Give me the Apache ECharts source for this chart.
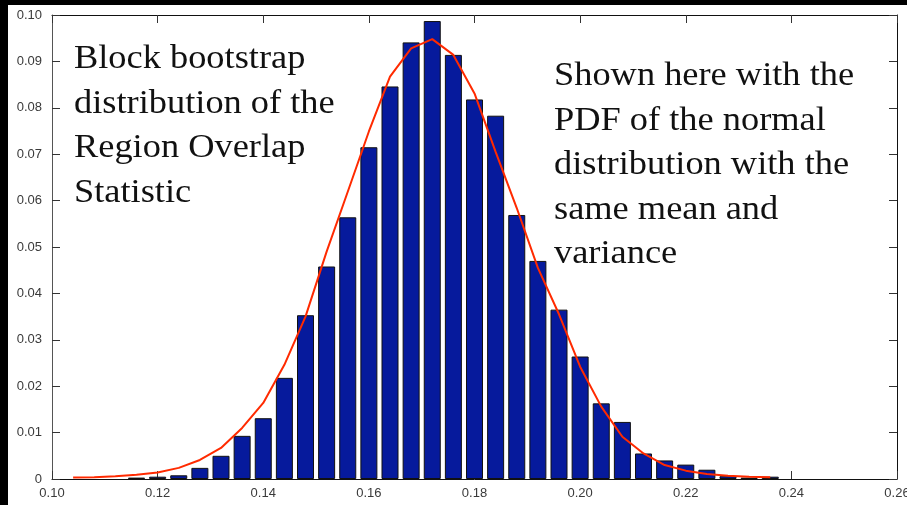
<!DOCTYPE html>
<html>
<head>
<meta charset="utf-8">
<script src="https://cdn.jsdelivr.net/npm/echarts@6/dist/echarts.min.js"></script>
<style>
  html, body { margin: 0; padding: 0; background: #ffffff; }
  #chart { width: 907px; height: 505px; }
</style>
</head>
<body>
<div id="chart"></div>
<script>
// Histogram bin centres (bin width 0.004) and the bootstrap frequencies
const binCenters = [0.116, 0.120, 0.124, 0.128, 0.132, 0.136, 0.140, 0.144, 0.148,
  0.152, 0.156, 0.160, 0.164, 0.168, 0.172, 0.176, 0.180, 0.184, 0.188, 0.192,
  0.196, 0.200, 0.204, 0.208, 0.212, 0.216, 0.220, 0.224, 0.228, 0.232, 0.236];
const binFreq = [0.0003, 0.0005, 0.0008, 0.0024, 0.0050, 0.0093, 0.0131, 0.0218, 0.0353,
  0.0458, 0.0564, 0.0715, 0.0846, 0.0941, 0.0987, 0.0914, 0.0818, 0.0783, 0.0569, 0.0470,
  0.0365, 0.0264, 0.0163, 0.0123, 0.0055, 0.0040, 0.0031, 0.0020, 0.0006, 0.0003, 0.0005];

// Normal PDF (same mean and variance), sampled at the bin centres
const pdfX = [0.104, 0.108, 0.112, 0.116, 0.120, 0.124, 0.128, 0.132, 0.136, 0.140,
  0.144, 0.148, 0.152, 0.156, 0.160, 0.164, 0.168, 0.172, 0.176, 0.180, 0.184,
  0.188, 0.192, 0.196, 0.200, 0.204, 0.208, 0.212, 0.216, 0.220, 0.224, 0.228,
  0.232, 0.236];
const pdfY = [0.0003, 0.0004, 0.0006, 0.0009, 0.0014, 0.0024, 0.0041, 0.0067, 0.0110, 0.0164,
  0.0246, 0.0350, 0.0490, 0.0619, 0.0749, 0.0867, 0.0928, 0.0948, 0.0914, 0.0831, 0.0705,
  0.0584, 0.0455, 0.0355, 0.0242, 0.0156, 0.0091, 0.0055, 0.0030, 0.0018, 0.0011, 0.0007,
  0.0005, 0.0004];

// Axis tick settings
const xMin = 0.10, xMax = 0.26, xStep = 0.02;
const yMin = 0, yMax = 0.10, yStep = 0.01;

const leftNote = ['Block bootstrap', 'distribution of the', 'Region Overlap', 'Statistic'];
const rightNote = ['Shown here with the', 'PDF of the normal', 'distribution with the', 'same mean and', 'variance'];

const chart = echarts.init(document.getElementById('chart'), null, { renderer: 'canvas' });

const axisColor = '#333';
const tickLabel = { color: '#3a3a3a', fontSize: 13, fontFamily: 'Liberation Sans, Arial, sans-serif' };

const serif = 'Liberation Serif, "DejaVu Serif", serif';
// Multi-line serif note, slightly widened horizontally
function noteText(lines, x, y) {
  return {
    type: 'text', x: x, y: y, z: 10, scaleX: 1.07, scaleY: 1,
    style: { text: lines.join('\n'), font: '34px ' + serif, fill: '#111', lineHeight: 44.5 }
  };
}

chart.setOption({
  backgroundColor: '#ffffff',
  animation: false,
  grid: { left: 52, top: 15, right: 10, bottom: 26, containLabel: false, outerBoundsMode: 'none' },
  xAxis: [{
    type: 'value', min: xMin, max: xMax, interval: xStep,
    axisLine: { show: true, onZero: false, lineStyle: { color: '#111', width: 1 } },
    axisTick: { show: true, inside: true, length: 8, lineStyle: { color: axisColor } },
    axisLabel: Object.assign({ margin: 8, showMaxLabel: true,
      formatter: v => v.toFixed(2) }, tickLabel),
    splitLine: { show: false }
  }, {
    type: 'value', position: 'top', min: xMin, max: xMax, interval: xStep,
    axisLine: { show: true, onZero: false, lineStyle: { color: '#111', width: 1 } },
    axisTick: { show: true, inside: true, length: 8, lineStyle: { color: axisColor } },
    axisLabel: { show: false }, splitLine: { show: false }
  }],
  yAxis: [{
    type: 'value', min: yMin, max: yMax, interval: yStep,
    axisLine: { show: true, onZero: false, lineStyle: { color: '#555', width: 1 } },
    axisTick: { show: true, inside: true, length: 8, lineStyle: { color: axisColor } },
    axisLabel: Object.assign({ margin: 10,
      formatter: v => (v === 0 ? '0' : v.toFixed(2)) }, tickLabel),
    splitLine: { show: false }
  }, {
    type: 'value', position: 'right', min: yMin, max: yMax, interval: yStep,
    axisLine: { show: true, onZero: false, lineStyle: { color: '#111', width: 1 } },
    axisTick: { show: true, inside: true, length: 8, lineStyle: { color: axisColor } },
    axisLabel: { show: false }, splitLine: { show: false }
  }],
  series: [{
    type: 'bar',
    xAxisIndex: 0, yAxisIndex: 0,
    barWidth: 17,
    data: binCenters.map((c, i) => [c, binFreq[i]]),
    itemStyle: { color: '#061a9c', borderColor: '#111', borderWidth: 1 }
  }, {
    type: 'line',
    xAxisIndex: 0, yAxisIndex: 0,
    data: pdfX.map((x, i) => [x, pdfY[i]]),
    showSymbol: false, smooth: false, z: 5,
    lineStyle: { color: '#ff2a00', width: 2 }
  }],
  graphic: [
    { type: 'rect', left: 0, top: 0, shape: { width: 907, height: 5 }, style: { fill: '#000' }, z: 20 },
    { type: 'rect', left: 0, top: 0, shape: { width: 8, height: 505 }, style: { fill: '#000' }, z: 20 },
    noteText(leftNote, 74, 37),
    noteText(rightNote, 554, 54)
  ]
});
</script>
</body>
</html>
